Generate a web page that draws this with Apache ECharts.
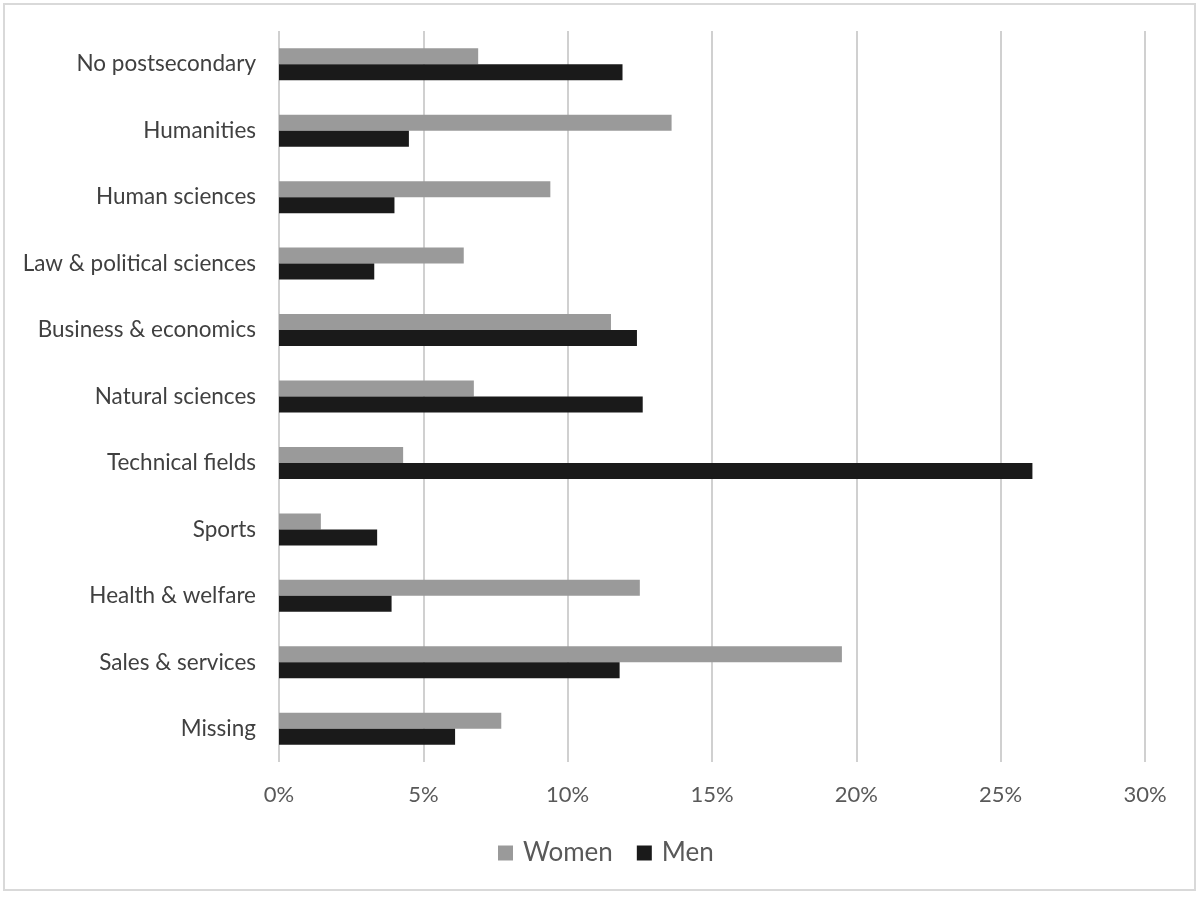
<!DOCTYPE html>
<html><head><meta charset="utf-8">
<script src="https://cdn.jsdelivr.net/npm/echarts@6/dist/echarts.min.js"></script>
<style>html,body{margin:0;padding:0;background:#fff}#c{width:1200px;height:897px}</style>
</head><body><div id="c"></div>
<script>
const categories = ["No postsecondary","Humanities","Human sciences","Law & political sciences","Business & economics","Natural sciences","Technical fields","Sports","Health & welfare","Sales & services","Missing"];
const women = [6.9,13.6,9.4,6.4,11.5,6.75,4.3,1.45,12.5,19.5,7.7];
const men = [11.9,4.5,4.0,3.3,12.4,12.6,26.1,3.4,3.9,11.8,6.1];
const xTicks = {min:0,max:30,interval:5};

const chart = echarts.init(document.getElementById('c'));
chart.setOption({
  animation:false,
  textStyle:{fontFamily:'Lato'},
  graphic:[{type:'rect',shape:{x:4,y:4,width:1191,height:886},style:{fill:'none',stroke:'#d9d9d9',lineWidth:2},silent:true}],
  grid:{left:279,right:55,top:31,bottom:135},
  legend:{top:835,left:493,icon:'rect',itemWidth:15,itemHeight:15,itemGap:24,
    textStyle:{fontSize:26,color:'#595959',fontFamily:'Lato',padding:[0,0,0,5]},data:['Women','Men']},
  xAxis:{type:'value',min:xTicks.min,max:xTicks.max,interval:xTicks.interval,
    axisLine:{show:false},axisTick:{show:false},
    axisLabel:{formatter:'{value}%',fontSize:22,color:'#595959',margin:22,fontFamily:'Lato'},
    splitLine:{lineStyle:{color:'#d0d0d0',width:2}}},
  yAxis:{type:'category',data:categories,inverse:true,
    axisLine:{show:false},axisTick:{show:false},
    axisLabel:{fontSize:22.5,color:'#404040',margin:23,fontFamily:'Lato',padding:[6,0,0,0]}},
  series:[
    {name:'Women',type:'bar',data:women,barWidth:16,barGap:'0%',itemStyle:{color:'#9a9a9a'}},
    {name:'Men',type:'bar',data:men,barWidth:16,barGap:'0%',itemStyle:{color:'#1a1a1a'}}
  ]
});
</script></body></html>
